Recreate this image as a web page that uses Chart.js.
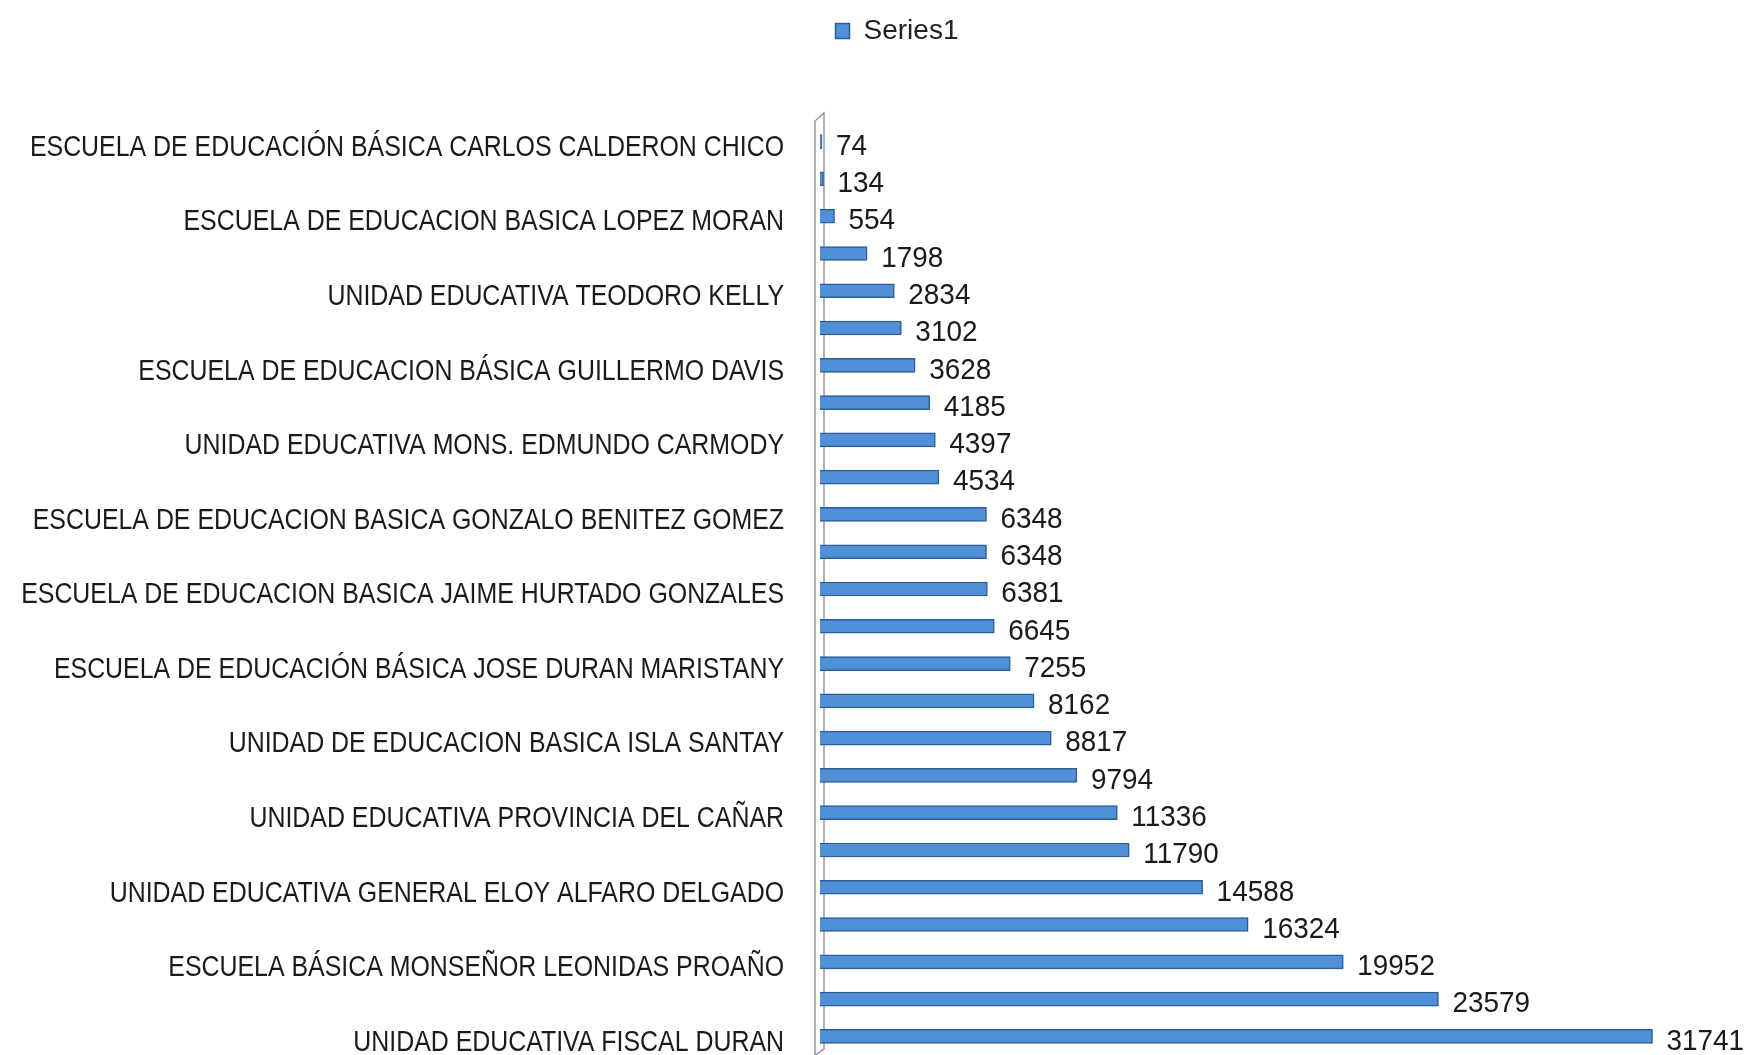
<!DOCTYPE html>
<html>
<head>
<meta charset="utf-8">
<script src="https://cdn.jsdelivr.net/npm/chart.js@4.4.0/dist/chart.umd.min.js"></script>
<style>
  html, body { margin: 0; padding: 0; background: #ffffff; }
  #wrap { width: 1751px; height: 1055px; }
</style>
</head>
<body>
<div id="wrap"><canvas id="schoolChart" width="1751" height="1055"></canvas></div>
<script>
// categories, top to bottom (the hidden ones are not labelled in the original)
const schools = [
    'ESCUELA DE EDUCACIÓN BÁSICA CARLOS CALDERON CHICO', '',
    'ESCUELA DE EDUCACION BASICA LOPEZ MORAN', '',
    'UNIDAD EDUCATIVA TEODORO KELLY', '',
    'ESCUELA DE EDUCACION BÁSICA GUILLERMO DAVIS', '',
    'UNIDAD EDUCATIVA MONS. EDMUNDO CARMODY', '',
    'ESCUELA DE EDUCACION BASICA GONZALO BENITEZ GOMEZ', '',
    'ESCUELA DE EDUCACION BASICA JAIME HURTADO GONZALES', '',
    'ESCUELA DE EDUCACIÓN BÁSICA JOSE DURAN MARISTANY', '',
    'UNIDAD DE EDUCACION BASICA ISLA SANTAY', '',
    'UNIDAD EDUCATIVA PROVINCIA DEL CAÑAR', '',
    'UNIDAD EDUCATIVA GENERAL ELOY ALFARO DELGADO', '',
    'ESCUELA BÁSICA MONSEÑOR LEONIDAS PROAÑO', '',
    'UNIDAD EDUCATIVA FISCAL DURAN'
];
const series1 = [74, 134, 554, 1798, 2834, 3102, 3628, 4185, 4397, 4534,
    6348, 6348, 6381, 6645, 7255, 8162, 8817, 9794, 11336, 11790,
    14588, 16324, 19952, 23579, 31741];
const xMax = 35000;

const FONT = '"Liberation Sans", Arial, sans-serif';

// no narrow face installed, so squeeze text a bit like Calibri
function narrowText(ctx, text, x, y, squeeze) {
    const w = ctx.measureText(text).width;
    ctx.fillText(text, x, y, w * squeeze);
}

// fixed legend height so the plot starts where the original one does
const legendHeight = {
    id: 'legendHeight',
    beforeInit(chart) {
        const fit = chart.legend.fit;
        chart.legend.fit = function () {
            fit.bind(chart.legend)();
            this.height = 123;
        };
    }
};

// thin grey "3D" wall behind the category axis
const wall = {
    id: 'wall',
    beforeDatasetsDraw(chart) {
        const { ctx, chartArea } = chart;
        const x = chartArea.left;
        ctx.save();
        ctx.strokeStyle = '#9a9a9a';
        ctx.lineWidth = 1.5;
        ctx.beginPath();
        ctx.moveTo(x - 5, chartArea.bottom);
        ctx.lineTo(x - 5, chartArea.top - 2);
        ctx.lineTo(x + 4, chartArea.top - 10);
        ctx.lineTo(x + 4, chartArea.bottom - 6);
        ctx.lineTo(x - 5, chartArea.bottom);
        ctx.stroke();
        ctx.restore();
    }
};

// category labels and value labels
const textLabels = {
    id: 'textLabels',
    afterDatasetsDraw(chart) {
        const { ctx, chartArea } = chart;
        const yScale = chart.scales.y;
        const meta = chart.getDatasetMeta(0);
        ctx.save();
        ctx.font = '30px ' + FONT;
        ctx.fillStyle = '#1a1a1a';
        ctx.textBaseline = 'middle';

        ctx.textAlign = 'right';
        schools.forEach(function (name, i) {
            if (!name) return;
            narrowText(ctx, name, chartArea.left - 36, yScale.getPixelForTick(i) + 6, 0.83);
        });

        ctx.textAlign = 'left';
        meta.data.forEach(function (bar, i) {
            narrowText(ctx, String(series1[i]), bar.x + 14, bar.y + 5, 0.93);
        });
        ctx.restore();
    }
};

const ctx = document.getElementById('schoolChart').getContext('2d');
const schoolChart = new Chart(ctx, {
    type: 'bar',
    data: {
        labels: schools,
        datasets: [{
            label: 'Series1',
            data: series1,
            backgroundColor: '#4f90d8',
            borderColor: '#2c5d96',
            borderWidth: 1.5,
            borderSkipped: 'left',
            barThickness: 14
        }]
    },
    options: {
        indexAxis: 'y',
        responsive: false,
        animation: false,
        layout: { padding: { left: 56, right: 13, top: 0, bottom: 0 } },
        plugins: {
            legend: {
                display: true,
                position: 'top',
                labels: {
                    color: '#222222',
                    font: { family: FONT, size: 28 },
                    boxWidth: 14,
                    boxHeight: 15,
                    padding: 17
                }
            },
            tooltip: { enabled: false }
        },
        scales: {
            x: {
                display: false,
                min: 0,
                max: xMax
            },
            y: {
                afterFit: function (scale) { scale.width = 764; },
                grid: { display: false, drawTicks: false },
                border: { display: false },
                ticks: { display: false, autoSkip: false }
            }
        }
    },
    plugins: [legendHeight, wall, textLabels]
});
</script>
</body>
</html>
